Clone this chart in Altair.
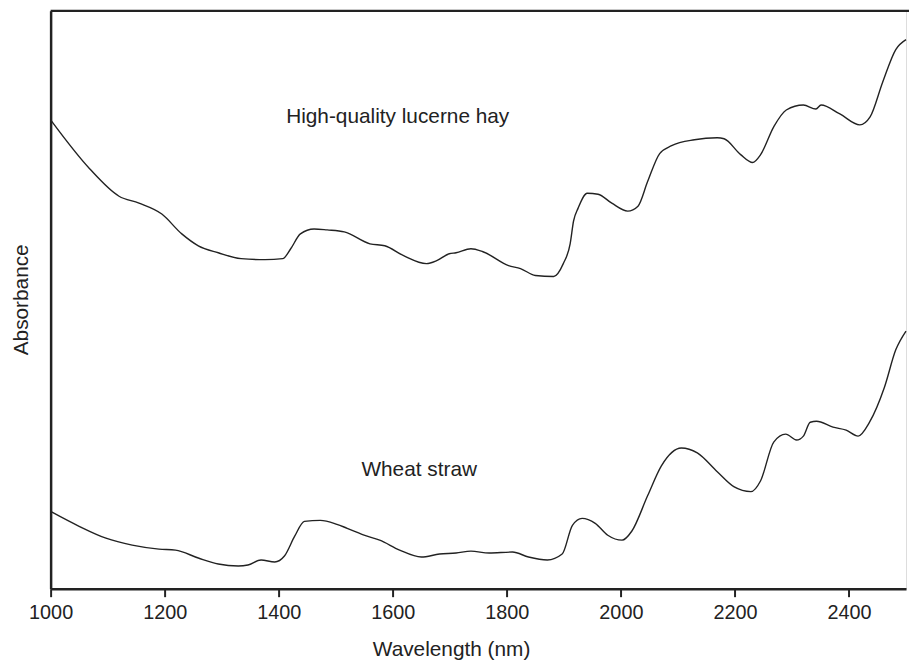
import altair as alt
import pandas as pd

# Wavelength (nm) and absorbance (arbitrary units)
wavelength_lucerne = [1000, 1068, 1120, 1155, 1195, 1230, 1259, 1294, 1334, 1376,
                      1407, 1421, 1438, 1462, 1485, 1515, 1560, 1586, 1619, 1659,
                      1677, 1699, 1711, 1737, 1758, 1803, 1824, 1850, 1882, 1899,
                      1911, 1917, 1925, 1941, 1960, 1984, 2012, 2030, 2047, 2068,
                      2089, 2129, 2169, 2181, 2210, 2231, 2245, 2268, 2290, 2320,
                      2342, 2351, 2384, 2419, 2437, 2459, 2482, 2500]
absorbance_lucerne = [473, 424, 396, 389, 378, 358, 346, 339, 333, 332,
                      333, 343, 358, 363, 362, 360, 348, 346, 336, 328,
                      331, 338, 339, 343, 340, 326, 323, 316, 315, 328,
                      348, 371, 384, 399, 398, 389, 381, 386, 411, 439,
                      447, 453, 455, 454, 438, 430, 438, 466, 483, 488,
                      484, 488, 479, 468, 476, 511, 544, 554]

wavelength_wheat = [1000, 1050, 1097, 1143, 1190, 1219, 1259, 1294, 1329, 1346,
                    1369, 1393, 1410, 1428, 1445, 1473, 1502, 1520, 1555, 1577,
                    1612, 1650, 1682, 1711, 1737, 1769, 1810, 1838, 1871, 1897,
                    1915, 1932, 1955, 1977, 2002, 2019, 2047, 2071, 2106, 2134,
                    2169, 2198, 2228, 2245, 2268, 2289, 2308, 2320, 2332, 2343,
                    2372, 2395, 2416, 2436, 2462, 2482, 2500]
absorbance_wheat = [78, 63, 51, 44, 40, 39, 31, 25, 23, 24,
                    29, 27, 33, 53, 68, 69, 65, 61, 53, 49,
                    39, 32, 35, 36, 38, 36, 37, 32, 29, 35,
                    64, 71, 66, 54, 49, 58, 94, 124, 142, 137,
                    118, 103, 98, 109, 148, 156, 150, 154, 168, 169,
                    163, 160, 154, 168, 203, 241, 260]

x_ticks = [1000, 1200, 1400, 1600, 1800, 2000, 2200, 2400]

label_text = ["High-quality lucerne hay", "Wheat straw"]
label_wavelength = [1413, 1545]
label_absorbance = [470, 114]

df = pd.concat([
    pd.DataFrame({"wavelength": wavelength_lucerne, "absorbance": absorbance_lucerne,
                  "sample": "High-quality lucerne hay"}),
    pd.DataFrame({"wavelength": wavelength_wheat, "absorbance": absorbance_wheat,
                  "sample": "Wheat straw"}),
])
labels = pd.DataFrame({"wavelength": label_wavelength, "absorbance": label_absorbance,
                       "text": label_text})

FONT = "Liberation Sans"
INK = "#222222"
W, H = 863, 583

x_enc = alt.X(
    "wavelength:Q",
    scale=alt.Scale(domain=[1000, 2500], nice=False, zero=False),
    axis=alt.Axis(values=x_ticks, format="d", title="Wavelength (nm)", grid=False,
                  tickSize=8, tickWidth=2, tickColor=INK,
                  domainColor=INK, domainWidth=2.5,
                  labelFontSize=20, labelFont=FONT, labelColor=INK,
                  labelBaseline="alphabetic", labelPadding=22, labelFlush=False,
                  titleFontSize=21, titleFont=FONT, titleFontWeight="normal",
                  titleColor=INK, titleX=404, titleY=67, titleBaseline="alphabetic",
                  titleAlign="center"),
)
y_enc = alt.Y(
    "absorbance:Q",
    scale=alt.Scale(domain=[0, 583], nice=False, zero=False),
    axis=alt.Axis(ticks=False, labels=False, grid=False,
                  domainColor=INK, domainWidth=2.5,
                  title="Absorbance", titleFontSize=21, titleFont=FONT,
                  titleFontWeight="normal", titleColor=INK,
                  titleX=-29, titleY=291, titleAngle=270,
                  titleBaseline="middle", titleAlign="center"),
)

lines = alt.Chart(df).mark_line(color=INK, strokeWidth=1.4, interpolate="monotone").encode(
    x=x_enc, y=y_enc, detail="sample:N"
)

text = alt.Chart(labels).mark_text(
    align="left", baseline="alphabetic", font=FONT, fontSize=21, color=INK
).encode(x="wavelength:Q", y="absorbance:Q", text="text:N")

top_border = alt.Chart(pd.DataFrame({"a": [0]})).mark_rule(color=INK, strokeWidth=2.5).encode(
    x=alt.value(0), x2=alt.value(W + 3), y=alt.value(0)
)

chart = alt.layer(lines, text, top_border).properties(
    width=W, height=H,
    autosize=alt.AutoSizeParams(type="none"),
    padding={"left": 43, "top": 0, "right": 3, "bottom": 70},
).configure_view(stroke=None).configure(background="white")

chart.save("out.html", embed_options={"renderer": "svg", "actions": False})
